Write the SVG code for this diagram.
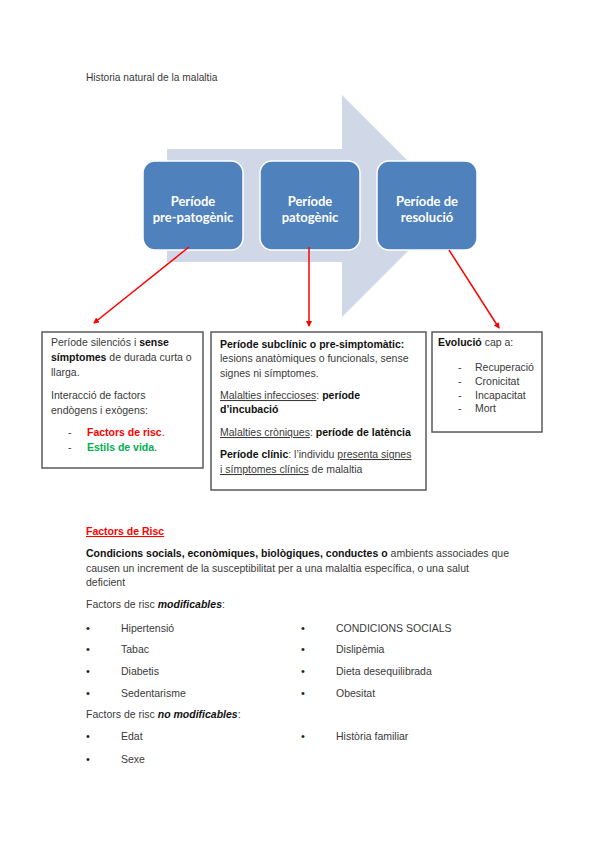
<svg xmlns="http://www.w3.org/2000/svg" width="599" height="848" viewBox="0 0 599 848">
<defs>
<marker id="ah" markerWidth="6" markerHeight="6" refX="5" refY="3" orient="auto" markerUnits="userSpaceOnUse" viewBox="0 0 6 6">
<path d="M0,0 L6,3 L0,6 z" fill="#ff0000"/>
</marker>
<style>
.t{font-family:"Liberation Sans",Arial,sans-serif;font-size:10.5px;fill:#3a3a3a}
.b{font-weight:bold;fill:#111}
.bt{font-family:Lato,"Liberation Sans",sans-serif;font-size:13px;font-weight:bold;fill:#fff;text-anchor:middle}
.node{fill:#4f81bd;stroke:#fff;stroke-width:1.5}
.box{fill:#fff;stroke:#5a5a5a;stroke-width:1.5}
.con{stroke:#ff0000;stroke-width:1.5;fill:none;marker-end:url(#ah)}
.bul{font-size:11px;fill:#222}
</style>
</defs>
<rect width="599" height="848" fill="#fff"/>
<text class="t" x="86" y="81" style="font-size:10.2px">Historia natural de la malaltia</text>
<g id="arrow">
<path d="M167,149 L342,149 L342,95 L453,206 L342,317 L342,262 L167,262 Z" fill="#d0d8e8"/>
</g>
<g id="n1">
<rect class="node" x="143" y="161" width="100" height="89" rx="12"/>
<text class="bt" x="193" y="206">Període</text>
<text class="bt" x="193" y="222">pre-patogènic</text>
</g>
<g id="n2">
<rect class="node" x="260" y="161" width="100" height="89" rx="12"/>
<text class="bt" x="310" y="206">Període</text>
<text class="bt" x="310" y="222">patogènic</text>
</g>
<g id="n3">
<rect class="node" x="377" y="161" width="100" height="89" rx="12"/>
<text class="bt" x="427" y="206">Període de</text>
<text class="bt" x="427" y="222">resolució</text>
</g>
<g id="connectors">
<line class="con" x1="189" y1="247" x2="94" y2="323"/>
<line class="con" x1="309" y1="247" x2="309" y2="326"/>
<line class="con" x1="449" y1="250" x2="499" y2="328"/>
</g>
<g id="boxA">
<rect class="box" x="42" y="332" width="161" height="136"/>
<text class="t" x="51" y="346">Període silenciós i <tspan class="b">sense</tspan></text>
<text class="t" x="51" y="361"><tspan class="b">símptomes</tspan> de durada curta o</text>
<text class="t" x="51" y="376">llarga.</text>
<text class="t" x="51" y="399">Interacció de factors</text>
<text class="t" x="51" y="414">endògens i exògens:</text>
<text class="t" x="68" y="436">-</text>
<text class="t b" x="87" y="436" style="fill:#ff0000">Factors de risc<tspan style="fill:#3a3a3a;font-weight:normal">.</tspan></text>
<text class="t" x="68" y="451">-</text>
<text class="t b" x="87" y="451" style="fill:#00b050">Estils de vida<tspan style="fill:#3a3a3a;font-weight:normal">.</tspan></text>
</g>
<g id="boxB">
<rect class="box" x="211" y="332" width="215" height="158"/>
<text class="t b" x="220" y="348">Període subclínic o pre-simptomàtic:</text>
<text class="t" x="220" y="362">lesions anatòmiques o funcionals, sense</text>
<text class="t" x="220" y="377">signes ni símptomes.</text>
<text class="t" x="220" y="399"><tspan text-decoration="underline">Malalties infeccioses</tspan>: <tspan class="b">període</tspan></text>
<text class="t b" x="220" y="413">d’incubació</text>
<text class="t" x="220" y="436"><tspan text-decoration="underline">Malalties cròniques</tspan>: <tspan class="b">període de latència</tspan></text>
<text class="t" x="220" y="458"><tspan class="b">Període clínic</tspan>: l’individu <tspan text-decoration="underline">presenta signes</tspan></text>
<text class="t" x="220" y="473"><tspan text-decoration="underline">i símptomes clínics</tspan> de malaltia</text>
</g>
<g id="boxC">
<rect class="box" x="432" y="332" width="110" height="100"/>
<text class="t" x="438" y="346"><tspan class="b">Evolució</tspan> cap a:</text>
<text class="t" x="458" y="371">-</text><text class="t" x="475" y="371">Recuperació</text>
<text class="t" x="458" y="385">-</text><text class="t" x="475" y="385">Cronicitat</text>
<text class="t" x="458" y="399">-</text><text class="t" x="475" y="399">Incapacitat</text>
<text class="t" x="458" y="412">-</text><text class="t" x="475" y="412">Mort</text>
</g>
<g id="risc">
<text class="t b" x="86" y="535" style="fill:#ff0000" text-decoration="underline">Factors de Risc</text>
<text class="t" x="86" y="557"><tspan class="b">Condicions socials, econòmiques, biològiques, conductes o</tspan> ambients associades que</text>
<text class="t" x="86" y="572">causen un increment de la susceptibilitat per a una malaltia específica, o una salut</text>
<text class="t" x="86" y="586">deficient</text>
<text class="t" x="86" y="608">Factors de risc <tspan class="b" font-style="italic">modificables</tspan>:</text>
<text class="t bul" x="86" y="632">•</text><text class="t" x="121" y="632">Hipertensió</text>
<text class="t bul" x="86" y="653">•</text><text class="t" x="121" y="653">Tabac</text>
<text class="t bul" x="86" y="675">•</text><text class="t" x="121" y="675">Diabetis</text>
<text class="t bul" x="86" y="697">•</text><text class="t" x="121" y="697">Sedentarisme</text>
<text class="t bul" x="301" y="632">•</text><text class="t" x="336" y="632">CONDICIONS SOCIALS</text>
<text class="t bul" x="301" y="653">•</text><text class="t" x="336" y="653">Dislipèmia</text>
<text class="t bul" x="301" y="675">•</text><text class="t" x="336" y="675">Dieta desequilibrada</text>
<text class="t bul" x="301" y="697">•</text><text class="t" x="336" y="697">Obesitat</text>
<text class="t" x="86" y="718">Factors de risc <tspan class="b" font-style="italic">no modificables</tspan>:</text>
<text class="t bul" x="86" y="740">•</text><text class="t" x="121" y="740">Edat</text>
<text class="t bul" x="86" y="763">•</text><text class="t" x="121" y="763">Sexe</text>
<text class="t bul" x="301" y="740">•</text><text class="t" x="336" y="740">Història familiar</text>
</g>
</svg>
